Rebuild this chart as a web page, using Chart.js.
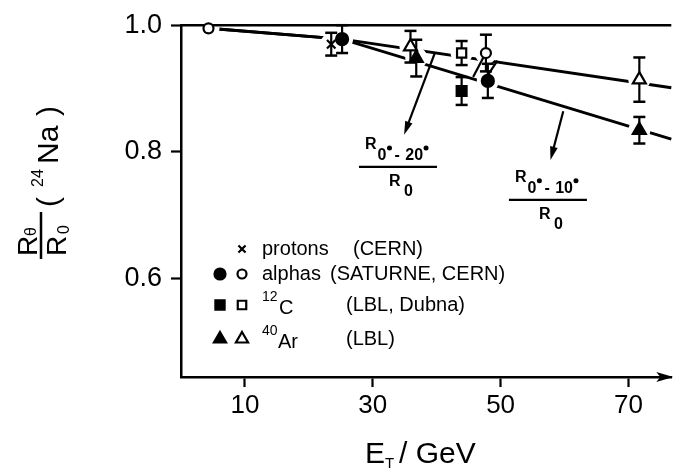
<!DOCTYPE html>
<html>
<head>
<meta charset="utf-8">
<script src="https://cdn.jsdelivr.net/npm/chart.js@4.4.1/dist/chart.umd.min.js"></script>
<style>
  body { margin: 0; background: #fff; }
  canvas { display: block; }
</style>
</head>
<body>
<canvas id="c" width="681" height="471"></canvas>
<script>
// 24Na yield ratios R(theta)/R(0) against total beam energy
var xTicks = [10, 30, 50, 70];
var yTicks = [0.6, 0.8, 1.0];

var protonE = [23.5];
var protonR = [0.970];
var protonErr = [0.018];

var alphaFullE = [25.2, 48.0];
var alphaFullR = [0.978, 0.912];
var alphaFullErr = [0.022, 0.027];
var alphaOpenE = [4.3, 47.7];
var alphaOpenR = [0.995, 0.956];
var alphaOpenErr = [0, 0.029];

var carbonFullE = [43.9];
var carbonFullR = [0.896];
var carbonFullErr = [0.022];
var carbonOpenE = [43.9];
var carbonOpenR = [0.956];
var carbonOpenErr = [0.019];

var argonFullE = [36.8, 71.7];
var argonFullR = [0.948, 0.834];
var argonFullErr = [0.029, 0.021];
var argonOpenE = [35.9, 71.7];
var argonOpenR = [0.966, 0.914];
var argonOpenErr = [0.025, 0.035];

// guide lines: open symbols 0-20 deg, filled symbols 0-10 deg
var guide20E = [4.3, 25.2, 76.7];
var guide20R = [0.995, 0.978, 0.901];
var guide10E = [4.3, 25.2, 76.7];
var guide10R = [0.995, 0.978, 0.820];

// arrows and little strokes, in (E, R) units
var arrows = [[39.7, 0.956, 34.9, 0.827], [59.8, 0.864, 57.8, 0.787]];
var strokes = [[47.3, 0.949, 45.7, 0.918], [49.5, 0.944, 48.0, 0.921]];
var fracAt = [[33.95, 0.776, '20'], [57.4, 0.724, '10']];

var FONT = '"Liberation Sans", Arial, sans-serif';

function pts(xs, ys) {
  return xs.map(function (x, i) { return { x: x, y: ys[i] }; });
}

var markers = [
  { xs: protonE, ys: protonR, err: protonErr, style: 'crossRot', r: 6, fill: '#000' },
  { xs: alphaFullE, ys: alphaFullR, err: alphaFullErr, style: 'circle', r: 6, fill: '#000' },
  { xs: alphaOpenE, ys: alphaOpenR, err: alphaOpenErr, style: 'circle', r: 5, fill: '#fff' },
  { xs: carbonFullE, ys: carbonFullR, err: carbonFullErr, style: 'rect', r: 7, fill: '#000' },
  { xs: carbonOpenE, ys: carbonOpenR, err: carbonOpenErr, style: 'rect', r: 6.5, fill: '#fff' },
  { xs: argonFullE, ys: argonFullR, err: argonFullErr, style: 'triangle', r: 7.5, fill: '#000' },
  { xs: argonOpenE, ys: argonOpenR, err: argonOpenErr, style: 'triangle', r: 7.5, fill: '#fff' }
];

var datasets = [
  { data: pts(guide20E, guide20R), showLine: true, borderColor: '#000', borderWidth: 3, pointRadius: 0, order: 3, clip: false },
  { data: pts(guide10E, guide10R), showLine: true, borderColor: '#000', borderWidth: 3, pointRadius: 0, order: 3, clip: false }
];
markers.forEach(function (m) {
  datasets.push({
    data: pts(m.xs, m.ys),
    errors: m.err,
    pointStyle: m.style,
    pointRadius: m.r,
    pointHoverRadius: m.r,
    pointBackgroundColor: m.fill,
    pointBorderColor: '#000',
    pointBorderWidth: 2.2,
    order: 1,
    clip: false
  });
});

function seg(c, x1, y1, x2, y2, w) {
  c.lineWidth = w;
  c.beginPath(); c.moveTo(x1, y1); c.lineTo(x2, y2); c.stroke();
}

function dot(c, x, y) {
  c.beginPath(); c.arc(x, y, 2.5, 0, Math.PI * 2); c.fill();
}

// R_{0°-N°} over R_0, centred on the bar
function fraction(c, cx, cy, deg) {
  c.textBaseline = 'alphabetic';
  c.textAlign = 'left';
  seg(c, cx - 39, cy, cx + 39, cy, 2.2);
  var x = cx - 33;
  c.font = 'bold 16px ' + FONT;
  c.fillText('R', x, cy - 18);
  x += c.measureText('R').width + 1;
  c.fillText('0', x, cy - 7);
  x += c.measureText('0').width + 3;
  dot(c, x, cy - 19);
  x += 5;
  c.fillText('-', x, cy - 7);
  x += c.measureText('- ').width + 1;
  c.fillText(deg, x, cy - 7);
  x += c.measureText(deg).width + 3;
  dot(c, x, cy - 19);
  c.fillText('R', cx - 9, cy + 19);
  c.fillText('0', cx + 6, cy + 29);
}

var sketch = {
  id: 'sketch',
  afterDatasetDraw: function (chart, args) {
    if (args.index !== 0) return;
    var c = chart.ctx, sx = chart.scales.x, sy = chart.scales.y;
    c.save();
    // guide lines break around every symbol
    c.fillStyle = '#fff';
    chart.data.datasets.forEach(function (ds) {
      if (!ds.errors) return;
      ds.data.forEach(function (p) {
        c.beginPath();
        c.arc(sx.getPixelForValue(p.x), sy.getPixelForValue(p.y), 11, 0, Math.PI * 2);
        c.fill();
      });
    });
    c.strokeStyle = '#000';
    // R = 1 reference line
    var y1 = sy.getPixelForValue(1.0);
    seg(c, sx.left, y1, sx.right, y1, 2.5);
    // error bars
    chart.data.datasets.forEach(function (ds) {
      if (!ds.errors) return;
      ds.data.forEach(function (p, i) {
        var e = ds.errors[i];
        if (!e) return;
        var px = sx.getPixelForValue(p.x);
        var top = sy.getPixelForValue(p.y + e), bot = sy.getPixelForValue(p.y - e);
        seg(c, px, top, px, bot, 2.2);
        seg(c, px - 6, top, px + 6, top, 2.5);
        seg(c, px - 6, bot, px + 6, bot, 2.5);
      });
    });
    c.restore();
  },
  afterDraw: function (chart) {
    var c = chart.ctx, sx = chart.scales.x, sy = chart.scales.y, a = chart.chartArea;
    c.save();
    c.fillStyle = '#000';
    c.strokeStyle = '#000';

    // arrow head on the energy axis
    c.beginPath();
    c.moveTo(a.right + 2, a.bottom);
    c.lineTo(a.right - 15, a.bottom - 5);
    c.lineTo(a.right - 11, a.bottom);
    c.lineTo(a.right - 15, a.bottom + 5);
    c.closePath();
    c.fill();

    // arrows from the guide lines to their labels
    arrows.forEach(function (r) {
      var x1 = sx.getPixelForValue(r[0]), y1 = sy.getPixelForValue(r[1]);
      var x2 = sx.getPixelForValue(r[2]), y2 = sy.getPixelForValue(r[3]);
      var ang = Math.atan2(y2 - y1, x2 - x1);
      seg(c, x1, y1, x2 - 8 * Math.cos(ang), y2 - 8 * Math.sin(ang), 2.2);
      c.beginPath();
      c.moveTo(x2, y2);
      c.lineTo(x2 - 14 * Math.cos(ang - 0.28), y2 - 14 * Math.sin(ang - 0.28));
      c.lineTo(x2 - 14 * Math.cos(ang + 0.28), y2 - 14 * Math.sin(ang + 0.28));
      c.closePath();
      c.fill();
    });
    strokes.forEach(function (r) {
      seg(c, sx.getPixelForValue(r[0]), sy.getPixelForValue(r[1]),
        sx.getPixelForValue(r[2]), sy.getPixelForValue(r[3]), 2.2);
    });
    fracAt.forEach(function (f) {
      fraction(c, sx.getPixelForValue(f[0]), sy.getPixelForValue(f[1]), f[2]);
    });

    // key
    var draw = Chart.helpers.drawPoint;
    function sym(style, x, y, r, fill) {
      c.fillStyle = fill;
      c.lineWidth = 2.2;
      draw(c, { pointStyle: style, radius: r, borderWidth: 2.2 }, x, y);
      c.fillStyle = '#000';
    }
    var KEY = '20px ' + FONT, SUP = '14px ' + FONT;
    c.textBaseline = 'middle';
    c.textAlign = 'left';
    c.font = KEY;
    sym('crossRot', 242, 249, 5, '#000');
    c.fillText('protons', 262, 249);
    c.fillText('(CERN)', 353, 249);

    sym('circle', 220, 274, 5.5, '#000');
    sym('circle', 242, 274, 4.5, '#fff');
    c.fillText('alphas', 262, 274);
    c.fillText('(SATURNE, CERN)', 330, 274);

    sym('rect', 220, 305, 6.5, '#000');
    sym('rect', 242, 305, 6, '#fff');
    c.font = SUP;
    c.fillText('12', 262, 297);
    c.font = KEY;
    c.fillText('C', 279, 308);
    c.fillText('(LBL, Dubna)', 346, 305);

    sym('triangle', 220, 339, 7, '#000');
    sym('triangle', 242, 339, 7, '#fff');
    c.font = SUP;
    c.fillText('40', 262, 331);
    c.font = KEY;
    c.fillText('Ar', 278, 342);
    c.fillText('(LBL)', 346, 339);

    // energy axis title
    c.textBaseline = 'alphabetic';
    c.font = '30px ' + FONT;
    c.fillText('E', 365, 463);
    c.font = '15px ' + FONT;
    c.fillText('T', 385, 468);
    c.font = '30px ' + FONT;
    c.fillText('/ GeV', 399, 463);

    // ratio axis title, rotated
    c.translate(41, 259);
    c.rotate(-Math.PI / 2);
    seg(c, 0, 0, 47, 0, 2.5);
    c.font = '28px ' + FONT;
    c.fillText('R', 3, -4);
    c.fillText('R', 3, 25);
    c.font = '16px ' + FONT;
    c.fillText('\u03b8', 23, -5);
    c.fillText('0', 25, 28);
    c.font = '30px ' + FONT;
    c.fillText('(', 52, 17);
    c.font = '16px ' + FONT;
    c.fillText('24', 72, 2);
    c.font = '30px ' + FONT;
    c.fillText('Na', 95, 17);
    c.fillText(')', 143, 17);
    c.restore();
  }
};

new Chart(document.getElementById('c'), {
  type: 'scatter',
  data: { datasets: datasets },
  options: {
    responsive: false,
    animation: false,
    devicePixelRatio: 1,
    layout: { padding: { top: 20, right: 4, left: 0, bottom: 0 } },
    plugins: { legend: { display: false }, tooltip: { enabled: false } },
    scales: {
      x: {
        type: 'linear',
        min: 0,
        max: 76.7,
        afterBuildTicks: function (s) { s.ticks = xTicks.map(function (v) { return { value: v }; }); },
        afterFit: function (s) { s.height = 94; },
        grid: { drawOnChartArea: false, drawTicks: true, tickLength: 10, tickWidth: 2.2, tickColor: '#000' },
        border: { display: true, color: '#000', width: 2.5 },
        ticks: { color: '#000', padding: 3, maxRotation: 0, font: { family: FONT, size: 26 } }
      },
      y: {
        type: 'linear',
        min: 0.444,
        max: 1.0,
        afterBuildTicks: function (s) { s.ticks = yTicks.map(function (v) { return { value: v }; }); },
        afterFit: function (s) { s.width = 181; },
        grid: { drawOnChartArea: false, drawTicks: true, tickLength: 10, tickWidth: 2.2, tickColor: '#000' },
        border: { display: true, color: '#000', width: 2.5 },
        ticks: {
          color: '#000', padding: 9, font: { family: FONT, size: 27 },
          callback: function (v) { return v.toFixed(1); }
        }
      }
    }
  },
  plugins: [sketch]
});
</script>
</body>
</html>
